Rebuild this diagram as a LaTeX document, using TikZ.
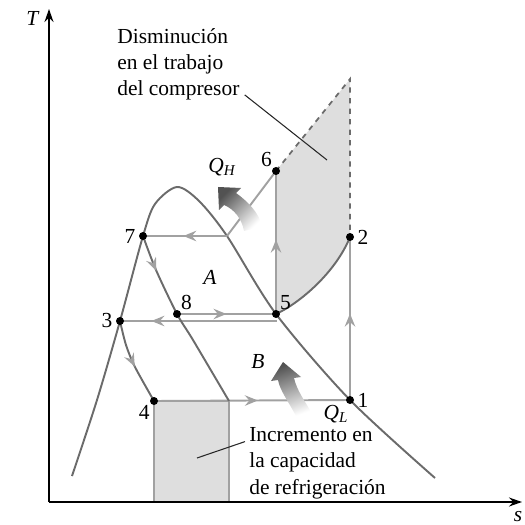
\documentclass[tikz,border=0pt]{standalone}
\usepackage{fontspec}
\setmainfont{Liberation Serif}
\usepackage{xcolor}
\usetikzlibrary{arrows.meta, positioning, calc, decorations.markings}

\definecolor{cyc}{gray}{0.63}
\definecolor{dome}{gray}{0.42}
\definecolor{area}{gray}{0.87}

\begin{document}
\begin{tikzpicture}[x=0.2mm, y=-0.2mm,
    every node/.style={font=\fontsize{12.2}{14.8}\selectfont, inner sep=0pt},
    dot/.style={circle, fill=black, minimum size=1.6mm},
    cycline/.style={draw=cyc, line width=1.1pt},
    domeline/.style={draw=dome, line width=1.1pt},
    leader/.style={draw=black!85, line width=0.6pt},
    midarrow/.style={postaction={decorate, decoration={markings,
        mark=at position #1 with {\arrow[cyc]{Stealth[length=2.6mm, width=2.1mm, inset=0.9mm]}}}}},
    heat/.style={top color=black!68, bottom color=white, shading angle=#1}]
    \useasboundingbox (0,0) rectangle (525,525);

    % state points
    \coordinate (c1) at (350,400);
    \coordinate (c2) at (350,237);
    \coordinate (c3) at (120,321);
    \coordinate (c4) at (154,401);
    \coordinate (c5) at (276,314);
    \coordinate (c6) at (276,171);
    \coordinate (c7) at (143,236);
    \coordinate (c8) at (177,314);
    \coordinate (top) at (350,79);
    \coordinate (k) at (227,236);
    \coordinate (c5b) at (277,321);
    \coordinate (r) at (229,401);

    % shaded areas
    \fill[area] (c6) -- (top) -- (c2) .. controls (336,272) and (300,303) .. (c5) -- cycle;
    \draw[draw=cyc, fill=area, line width=0.8pt] (c4) rectangle (229,502);
    \draw[dome, dashed, line width=1pt] (c6) -- (top) -- (c2);

    % axes
    \draw[line width=0.85pt, -{Stealth[length=2.6mm, width=1.8mm]}] (49,502) -- (49,9);
    \draw[line width=0.85pt, -{Stealth[length=2.6mm, width=1.8mm]}] (49,502) -- (522,502);
    \node (T) at (33,18) {\textit{T}};
    \node (s) at (518,517) {\textit{s}};

    % saturation dome
    \draw[domeline] plot[smooth] coordinates {(72,476) (97,400) (c3) (c7) (155,204)
        (177,187) (199,201) (k) (c5) (c1) (435,478)};
    \draw[domeline] (c5) .. controls (300,303) and (336,272) .. (c2);

    % cycle
    \draw[cycline, midarrow=0.53] (c4) -- (c1);
    \draw[cycline, midarrow=0.53] (c1) -- (c2);
    \draw[cycline] (c6) -- (k);
    \draw[cycline, midarrow=0.52] (k) -- (c7);
    \draw[cycline, midarrow=0.5] (c8) -- (c5);
    \draw[cycline, midarrow=0.52] (c5) -- (c6);
    \draw[cycline, midarrow=0.8] (c5b) -- (c3);
    \draw[domeline, midarrow=0.55] plot[smooth] coordinates {(c3) (126,345) (135,367) (c4)};
    \draw[domeline, midarrow=0.2] plot[smooth] coordinates {(c7) (156,270) (c8) (193,340) (r)};

    % heat arrows
    \shade[heat=45] (244,231) .. controls (242,219) and (234,209) .. (224,205) -- (219,210)
        -- (218,187) -- (241,188) -- (236,193) .. controls (246,200) and (260,213) .. (262,227) -- cycle;
    \shade[heat=20] (297,418) .. controls (289,402) and (280,391) .. (278,380) -- (271,381)
        -- (283,362) -- (301,377) -- (294,378) .. controls (297,391) and (305,401) .. (311,412) -- cycle;

    % points
    \node[dot, label={[label distance=0.6mm]right:1}] (n1) at (c1) {};
    \node[dot, label={[label distance=0.6mm]right:2}] (n2) at (c2) {};
    \node[dot, label={[label distance=0.6mm]left:3}] (n3) at (c3) {};
    \node[dot, label={[label distance=0.3mm]below left:4}] (n4) at (c4) {};
    \node[dot, label={[label distance=0.2mm]above right:5}] (n5) at (c5) {};
    \node[dot, label={[label distance=0.2mm]above left:6}] (n6) at (c6) {};
    \node[dot, label={[label distance=0.6mm]left:7}] (n7) at (c7) {};
    \node[dot, label={[label distance=0.2mm]above right:8}] (n8) at (c8) {};

    \node (A) at (210,277) {\textit{A}};
    \node (B) at (258,362) {\textit{B}};
    \node (QH) at (222,167) {\textit{Q\textsubscript{H}}};
    \node (QL) at (336,414) {\textit{Q\textsubscript{L}}};

    % notes
    \node[anchor=base west, align=left] (dis) at (117,96) {Disminución\\en el trabajo\\del compresor};
    \node[anchor=base west, align=left] (inc) at (249,494) {Incremento en\\la capacidad\\de refrigeración};
    \coordinate (dtip) at (327,160);
    \coordinate (itip) at (197,458);
    \draw[leader] ($(dis.south east)+(5,-6)$) -- (dtip);
    \draw[leader] ($(inc.north west)+(-4,14)$) -- (itip);
\end{tikzpicture}
\end{document}
